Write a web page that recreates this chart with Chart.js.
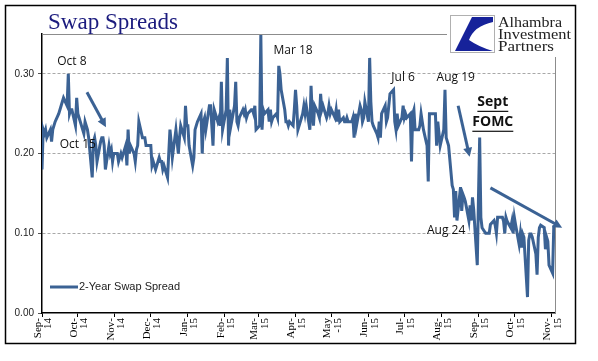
<!DOCTYPE html>
<html lang="en">
<head>
  <meta charset="UTF-8">
  <title>Swap Spreads</title>
  <script src="https://cdn.jsdelivr.net/npm/chart.js"></script>
  <style>
    body { margin: 0; background: #fff; }
  </style>
</head>
<body>
  <canvas id="myChart" width="598" height="361"></canvas>

  <script>
    // one value per weekday, starting Mon 1 Sep 2014
    const sep14 = [0.18,0.23,0.225,0.23,0.22,0.23,0.215,0.23,0.235,0.24,0.25,0.255,0.26,0.265,0.27,0.26,0.30,0.25,0.255,0.255,0.235,0.27];
    const oct14 = [0.25,0.245,0.24,0.225,0.24,0.235,0.23,0.22,0.17,0.215,0.22,0.21,0.19,0.215,0.22,0.22,0.21,0.18,0.21,0.20,0.205,0.19,0.20];
    const nov14 = [0.20,0.19,0.195,0.20,0.195,0.21,0.185,0.23,0.20,0.21,0.20,0.19,0.205,0.21,0.24,0.22,0.22,0.22,0.21,0.21];
    const dec14 = [0.21,0.185,0.19,0.185,0.18,0.195,0.19,0.19,0.18,0.185,0.17,0.20,0.23,0.215,0.195,0.23,0.215,0.20,0.22,0.235,0.22,0.26,0.235];
    const jan15 = [0.235,0.21,0.185,0.195,0.23,0.235,0.24,0.25,0.20,0.24,0.245,0.23,0.26,0.26,0.235,0.21,0.255,0.24,0.245,0.235,0.29,0.23];
    const feb15 = [0.255,0.32,0.21,0.255,0.235,0.26,0.29,0.24,0.235,0.245,0.255,0.25,0.255,0.245,0.25,0.255,0.255,0.25,0.26,0.23];
    const mar15 = [0.235,0.35,0.23,0.255,0.25,0.255,0.24,0.255,0.24,0.245,0.25,0.245,0.31,0.30,0.28,0.255,0.24,0.24,0.235,0.24,0.235,0.255];
    const apr15 = [0.28,0.26,0.23,0.245,0.25,0.26,0.25,0.26,0.23,0.285,0.25,0.235,0.26,0.25,0.245,0.275,0.255,0.26,0.245,0.25,0.26,0.25];
    const may15 = [0.255,0.245,0.255,0.24,0.255,0.24,0.245,0.24,0.24,0.245,0.24,0.24,0.245,0.22,0.25,0.235,0.26,0.255,0.24,0.245,0.265];
    const jun15 = [0.24,0.32,0.265,0.24,0.235,0.225,0.22,0.24,0.22,0.25,0.26,0.24,0.245,0.26,0.275,0.28,0.24,0.23,0.25,0.235,0.245,0.26];
    const jul15 = [0.245,0.25,0.245,0.25,0.19,0.25,0.255,0.23,0.23,0.235,0.25,0.24,0.23,0.21,0.165,0.25,0.25,0.25,0.25,0.21,0.24,0.225,0.21];
    const aug15 = [0.23,0.28,0.22,0.215,0.21,0.16,0.155,0.12,0.153,0.116,0.158,0.128,0.149,0.145,0.14,0.116,0.135,0.116,0.145,0.13,0.06];
    const sep15 = [0.145,0.22,0.12,0.107,0.10,0.10,0.10,0.10,0.111,0.116,0.11,0.10,0.12,0.12,0.12,0.115,0.10,0.12,0.115,0.107,0.115,0.10];
    const oct15 = [0.12,0.111,0.086,0.099,0.082,0.099,0.095,0.02,0.091,0.099,0.099,0.095,0.074,0.048,0.095,0.107,0.11,0.107,0.08,0.095,0.09,0.06];
    const nov15 = [0.05,0.11];

    const monthLabels = [['Sep-','14'],['Oct-','14'],['Nov-','14'],['Dec-','14'],['Jan-','15'],['Feb-','15'],['Mar-','15'],
                         ['Apr-','15'],['May','-15'],['Jun-','15'],['Jul-','15'],['Aug-','15'],['Sep-','15'],['Oct-','15'],['Nov-','15']];
    const yTicks = [0, 0.10, 0.20, 0.30];

    const notes = [
      { text: 'Oct 8',  day: 25,  value: 0.316 },
      { text: 'Oct 15', day: 30,  value: 0.211 },
      { text: 'Mar 18', day: 210, value: 0.329 },
      { text: 'Jul 6',  day: 302, value: 0.295 },
      { text: 'Aug 19', day: 346, value: 0.295 },
      { text: 'Aug 24', day: 338, value: 0.103 },
      { text: 'Sept',   day: 377, value: 0.265, bold: true },
      { text: 'FOMC',   day: 377, value: 0.240, bold: true }
    ];
    const arrows = [
      { from: [37.6, 0.277], to: [53.5, 0.233] },
      { from: [348, 0.260],  to: [357.6, 0.196] },
      { from: [375, 0.157],  to: [435, 0.107] }
    ];

    const values = [].concat(sep14, oct14, nov14, dec14, jan15, feb15, mar15, apr15, may15,
                             jun15, jul15, aug15, sep15, oct15, nov15);
    const start = Date.UTC(2014, 8, 1);
    const DAY = 86400000;

    // weekday offsets (in days) from the start date
    const days = [];
    for (let d = 0; days.length < values.length; d++) {
      const wd = new Date(start + d * DAY).getUTCDay();
      if (wd > 0 && wd < 6) days.push(d);
    }
    const monthDays = monthLabels.map((l, i) => (Date.UTC(2014, 8 + i, 1) - start) / DAY);

    const lineColor = '#3b6294';

    const decor = {
      id: 'decor',
      afterDraw(chart) {
        const ctx = chart.ctx;
        const xs = chart.scales.x, ys = chart.scales.y;
        const area = chart.chartArea;
        ctx.save();

        // plot frame (top + right, gray)
        ctx.strokeStyle = '#8c8c8c';
        ctx.lineWidth = 1;
        ctx.beginPath();
        ctx.moveTo(area.left, area.top + 0.5);
        ctx.lineTo(447, area.top + 0.5);
        ctx.moveTo(area.right + 0.5, 57);
        ctx.lineTo(area.right + 0.5, area.bottom);
        ctx.stroke();

        // outer border
        ctx.strokeStyle = '#000';
        ctx.lineWidth = 1.5;
        ctx.strokeRect(5.5, 5.5, 570, 338);

        // title
        ctx.fillStyle = '#1b1b7e';
        ctx.font = '23px "Liberation Serif"';
        ctx.textBaseline = 'alphabetic';
        let w = ctx.measureText('Swap Spreads').width;
        ctx.save();
        ctx.translate(48, 29);
        ctx.scale(130 / w, 1);
        ctx.fillText('Swap Spreads', 0, 0);
        ctx.restore();

        // logo
        ctx.fillStyle = '#fff';
        ctx.fillRect(450, 15, 45, 38);
        ctx.strokeStyle = '#b0b0b0';
        ctx.lineWidth = 1;
        ctx.strokeRect(450.5, 15.5, 44, 37);
        ctx.fillStyle = '#16229a';
        ctx.beginPath();
        ctx.moveTo(472, 17);
        ctx.lineTo(493, 17);
        ctx.lineTo(493, 22);
        ctx.quadraticCurveTo(474, 26, 469, 40);
        ctx.quadraticCurveTo(479, 47, 493, 51);
        ctx.lineTo(455, 51);
        ctx.closePath();
        ctx.fill();
        ctx.fillStyle = '#222';
        ctx.font = '15px "Liberation Serif"';
        [['Alhambra', 27, 64], ['Investment', 39, 73], ['Partners', 51, 56]].forEach(([t, y, tw]) => {
          const mw = ctx.measureText(t).width;
          ctx.save();
          ctx.translate(498, y);
          ctx.scale(tw / mw, 1);
          ctx.fillText(t, 0, 0);
          ctx.restore();
        });

        // legend
        ctx.strokeStyle = lineColor;
        ctx.lineWidth = 3;
        ctx.beginPath();
        ctx.moveTo(50, 287);
        ctx.lineTo(78, 287);
        ctx.stroke();
        ctx.fillStyle = '#222';
        ctx.font = '11px "Liberation Sans"';
        ctx.textBaseline = 'middle';
        ctx.fillText('2-Year Swap Spread', 79, 287);

        // annotations
        ctx.textAlign = 'center';
        notes.forEach(n => {
          const px = xs.getPixelForValue(n.day), py = ys.getPixelForValue(n.value);
          ctx.fillStyle = '#111';
          ctx.font = (n.bold ? 'bold 14px' : '12px') + ' "Open Sans"';
          ctx.fillText(n.text, px, py);
          if (n.bold) {
            const tw = ctx.measureText(n.text).width;
            ctx.fillRect(px - tw / 2, py + 9, tw, 1.2);
          }
        });

        // arrows
        ctx.strokeStyle = lineColor;
        ctx.fillStyle = lineColor;
        ctx.lineWidth = 3;
        arrows.forEach(a => {
          const x1 = xs.getPixelForValue(a.from[0]), y1 = ys.getPixelForValue(a.from[1]);
          const x2 = xs.getPixelForValue(a.to[0]), y2 = ys.getPixelForValue(a.to[1]);
          const ang = Math.atan2(y2 - y1, x2 - x1);
          ctx.beginPath();
          ctx.moveTo(x1, y1);
          ctx.lineTo(x2 - 6 * Math.cos(ang), y2 - 6 * Math.sin(ang));
          ctx.stroke();
          ctx.beginPath();
          ctx.moveTo(x2, y2);
          ctx.lineTo(x2 - 9 * Math.cos(ang) + 4.5 * Math.sin(ang), y2 - 9 * Math.sin(ang) - 4.5 * Math.cos(ang));
          ctx.lineTo(x2 - 9 * Math.cos(ang) - 4.5 * Math.sin(ang), y2 - 9 * Math.sin(ang) + 4.5 * Math.cos(ang));
          ctx.closePath();
          ctx.fill();
        });
        ctx.restore();
      }
    };

    const ctx = document.getElementById('myChart').getContext('2d');
    const myChart = new Chart(ctx, {
      type: 'line',
      data: {
        datasets: [{
          label: '2-Year Swap Spread',
          data: values.map((v, i) => ({ x: days[i], y: v })),
          borderColor: lineColor,
          borderWidth: 3,
          pointRadius: 0,
          tension: 0,
          fill: false
        }]
      },
      options: {
        responsive: false,
        animation: false,
        devicePixelRatio: 1,
        layout: { padding: { left: 0, right: 43, top: 34, bottom: 0 } },
        plugins: { legend: { display: false }, tooltip: { enabled: false } },
        scales: {
          x: {
            type: 'linear',
            min: 0,
            max: 429,
            afterBuildTicks: s => { s.ticks = monthDays.map(v => ({ value: v })); },
            afterFit: s => { s.height = 48; },
            ticks: {
              autoSkip: false,
              minRotation: 90,
              maxRotation: 90,
              padding: 1,
              labelOffset: -4,
              color: '#000',
              font: { family: 'Liberation Serif', size: 11, lineHeight: 0.95 },
              callback: v => monthLabels[monthDays.indexOf(v)]
            },
            grid: { drawOnChartArea: false, tickLength: 4, tickColor: '#000' },
            border: { color: '#000', width: 1.5 }
          },
          y: {
            min: 0,
            max: 0.35,
            afterBuildTicks: s => { s.ticks = yTicks.map(v => ({ value: v })); },
            afterFit: s => { s.width = 42; },
            ticks: {
              padding: 4,
              color: '#222',
              font: { family: 'Liberation Sans', size: 10 },
              callback: v => v.toFixed(2)
            },
            grid: {
              color: c => c.tick && c.tick.value === 0 ? 'rgba(0,0,0,0)' : '#a8a8a8',
              tickLength: 4,
              tickColor: '#555'
            },
            border: { color: '#000', width: 1.5, dash: [3, 2] }
          }
        }
      },
      plugins: [decor]
    });
  </script>
</body>
</html>
